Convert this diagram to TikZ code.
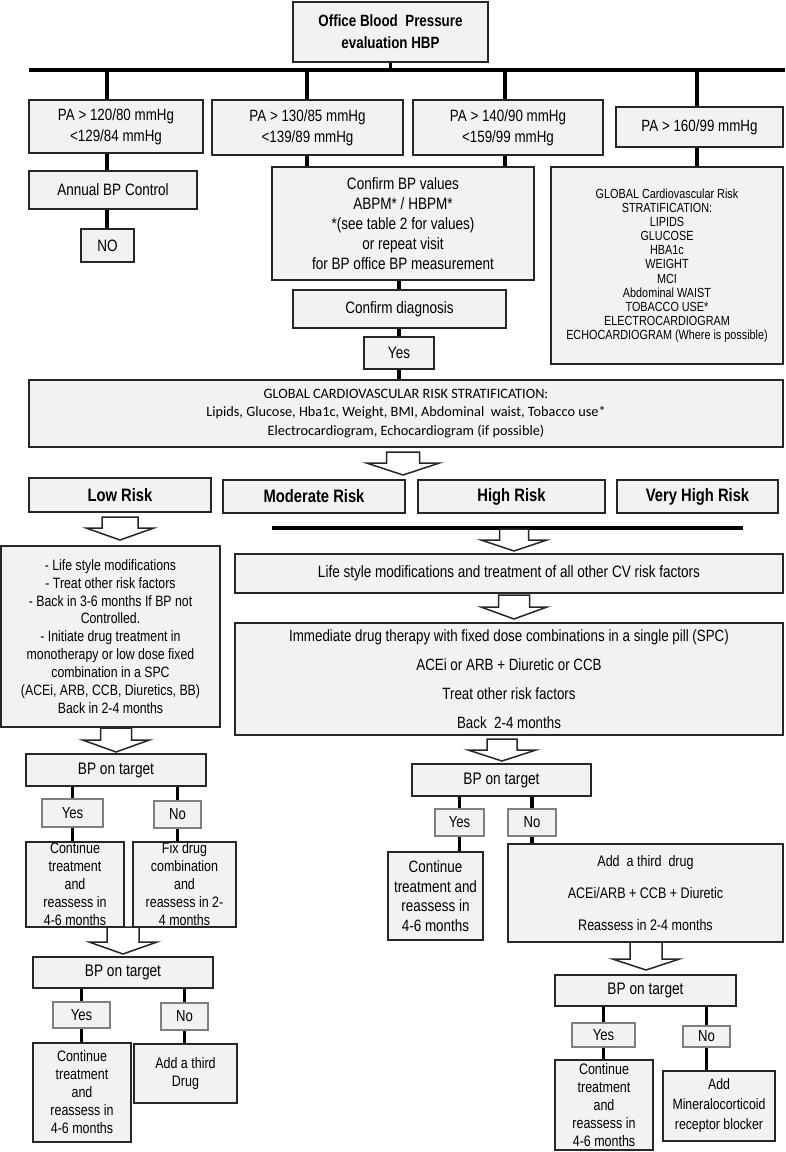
\documentclass[tikz,border=0pt]{standalone}
\usepackage{fontspec}
\setmainfont{Liberation Sans}[FakeStretch=0.82]
\newfontfamily\calib{Carlito}
\usetikzlibrary{calc}
\definecolor{boxfill}{HTML}{F2F2F2}
\definecolor{boxline}{HTML}{262626}
\definecolor{ynline}{HTML}{7F7F7F}
\newcommand\fs[2]{\fontsize{#1}{#2}\selectfont}
\newcommand\bx[7]{\node[#2, minimum width={(#5-#3)*1pt}, minimum height={(#6-#4)*1pt}] (#1) at ({(#3+#5)/2},{(#4+#6)/2}) {#7};}
\newcommand\harr[6]{\draw[harrow] ({#1-#5},{#2}) -- ({#1+#5},{#2}) -- ({#1+#5},{#3}) -- ({#1+#6},{#3}) -- ({#1},{#4}) -- ({#1-#6},{#3}) -- ({#1-#5},{#3}) -- cycle;}
\tikzset{
  box/.style={draw=boxline, fill=boxfill, line width=1.5pt, inner sep=0pt, align=center, font=\fs{16.5}{20}},
  ynbox/.style={draw=ynline, fill=boxfill, line width=1.2pt, inner sep=0pt, align=center, font=\fs{16}{20}},
  riskbox/.style={box, font=\fs{18}{22}\bfseries},
  conn/.style={line width=3.5pt, draw=black},
  thickbar/.style={line width=4pt, draw=black},
  harrow/.style={draw=boxline, fill=white, line width=1.5pt, line join=miter},
}
\begin{document}
\begin{tikzpicture}[x=1pt,y=-1pt]
\useasboundingbox (0,0) rectangle (785,1152);
% ---------- top part ----------
\bx{top}{box, font=\fs{16.3}{22}\bfseries}{293}{2}{488}{62}{Office Blood\ \ Pressure\\evaluation HBP}
\coordinate (barL) at (29,70);
\coordinate (barR) at (785,70);
\draw[conn] (top.south) -- (top.south |- barL);
\draw[thickbar] (barL) -- (barR);

\bx{b1}{box, font=\fs{16.3}{21}}{29}{100}{203}{153}{PA > 120/80 mmHg\\<129/84 mmHg}
\bx{b2}{box, font=\fs{16.3}{21}}{212}{100}{403}{155}{PA > 130/85 mmHg\\<139/89 mmHg}
\bx{b3}{box, font=\fs{16.3}{21}}{413}{100}{603}{155}{PA > 140/90 mmHg\\<159/99 mmHg}
\bx{b4}{box, font=\fs{16.3}{21}}{616}{107}{783}{147}{PA > 160/99 mmHg}

\bx{annual}{box}{29}{171}{197}{209}{Annual BP Control}
\bx{no0}{box}{81}{229}{134}{262}{NO}
\bx{confirm}{box}{272}{167}{534}{280}{Confirm BP values\\ABPM* / HBPM*\\*(see table 2 for values)\\or repeat visit\\for BP office BP measurement}
\bx{gright}{box, font=\fs{13.2}{14.1}}{551}{167}{783}{364}{GLOBAL Cardiovascular Risk\\STRATIFICATION:\\LIPIDS\\GLUCOSE\\HBA1c\\WEIGHT\\MCI\\Abdominal WAIST\\TOBACCO USE*\\ELECTROCARDIOGRAM\\ECHOCARDIOGRAM (Where is possible)}
\bx{cdiag}{box}{293}{290}{506}{328}{Confirm diagnosis}
\bx{yes0}{box}{364}{337}{434}{369}{Yes}
\bx{gcv}{box, font=\calib\fs{14.3}{18.5}}{29}{380}{783}{447}{GLOBAL CARDIOVASCULAR RISK STRATIFICATION:\\Lipids, Glucose, Hba1c, Weight, BMI, Abdominal\ \ waist, Tobacco use*\hspace*{28pt}\\Electrocardiogram, Echocardiogram (if possible)}

\coordinate (v1) at (107,70);
\coordinate (v2) at (307,70);
\coordinate (v3) at (505,70);
\coordinate (v4) at (697,70);
\coordinate (v5) at (399,70);
\draw[conn] (v1) -- (v1 |- b1.north);
\draw[conn] (v1 |- b1.south) -- (v1 |- annual.north);
\draw[conn] (v1 |- annual.south) -- (v1 |- no0.north);
\draw[conn] (v2) -- (v2 |- b2.north);
\draw[conn] (v2 |- b2.south) -- (v2 |- confirm.north);
\draw[conn] (v3) -- (v3 |- b3.north);
\draw[conn] (v3 |- b3.south) -- (v3 |- confirm.north);
\draw[conn] (v4) -- (v4 |- b4.north);
\draw[conn] (v4 |- b4.south) -- (v4 |- gright.north);
\draw[conn] (v5 |- confirm.south) -- (v5 |- cdiag.north);
\draw[conn] (v5 |- cdiag.south) -- (v5 |- yes0.north);
\draw[conn] (v5 |- yes0.south) -- (v5 |- gcv.north);

\harr{403}{452}{463}{475}{16.5}{36.5}

% ---------- risk row ----------
\bx{low}{riskbox}{29}{478}{211}{512}{Low Risk}
\bx{mod}{riskbox}{223}{480}{405}{513}{Moderate Risk}
\bx{high}{riskbox}{418}{480}{605}{513}{High Risk}
\bx{vhigh}{riskbox}{617}{480}{778}{513}{Very High Risk}

\coordinate (bar2L) at (272,528);
\coordinate (bar2R) at (743,528);
\draw[thickbar] (bar2L) -- (bar2R);

% ---------- low risk branch ----------
\harr{120}{517}{528}{540}{18}{34}
\bx{lowtxt}{box, font=\fs{15}{17.9}}{1}{546}{220}{727}{- Life style modifications\\- Treat other risk factors\\- Back in 3-6 months If BP not\\Controlled.\\- Initiate drug treatment in\\monotherapy or low dose fixed\\combination in a SPC\\(ACEi, ARB, CCB, Diuretics, BB)\\Back in 2-4 months}
\harr{116}{728}{740}{752}{15.5}{33.5}
\bx{bpL1}{box, font=\fs{16.7}{20}}{26}{754}{206}{786}{BP on target}
\bx{yesL1}{ynbox}{42}{799}{103}{827}{Yes}
\bx{noL1}{ynbox}{154}{801}{201}{828}{No}
\bx{contL1}{box, font=\fs{15.2}{18}}{26}{842}{124}{927}{Continue\\treatment\\and\\reassess in\\4-6 months}
\bx{fixL1}{box, font=\fs{15.2}{18}}{133}{842}{236}{927}{Fix drug\\combination\\and\\reassess in 2-\\4 months}
\draw[conn] (yesL1.north |- bpL1.south) -- (yesL1.north);
\draw[conn] (yesL1.south) -- (yesL1.south |- contL1.north);
\draw[conn] (noL1.north |- bpL1.south) -- (noL1.north);
\draw[conn] (noL1.south) -- (noL1.south |- fixL1.north);

\harr{123}{927}{942}{954}{16}{34}
\bx{bpL2}{box, font=\fs{16.7}{20}}{33}{957}{213}{988}{BP on target}
\bx{yesL2}{ynbox}{53}{1002}{110}{1028}{Yes}
\bx{noL2}{ynbox}{161}{1003}{208}{1030}{No}
\bx{contL2}{box, font=\fs{15.2}{18}}{33}{1043}{131}{1142}{Continue\\treatment\\and\\reassess in\\4-6 months}
\bx{addL2}{box, font=\fs{15.2}{18}}{134}{1044}{237}{1103}{Add a third\\Drug}
\draw[conn] (yesL2.north |- bpL2.south) -- (yesL2.north);
\draw[conn] (yesL2.south) -- (yesL2.south |- contL2.north);
\draw[conn] (noL2.north |- bpL2.south) -- (noL2.north);
\draw[conn] (noL2.south) -- (noL2.south |- addL2.north);

% ---------- moderate / high / very high branch ----------
\harr{514}{529}{540}{551}{14.5}{33}
\bx{life}{box}{235}{554}{783}{593}{Life style modifications and treatment of all other CV risk factors}
\harr{514}{595}{607}{619}{15.5}{33}
\bx{imm}{box, font=\fs{16.3}{29}}{235}{623}{783}{735}{Immediate drug therapy with fixed dose combinations in a single pill (SPC)\\ACEi or ARB + Diuretic or CCB\\Treat other risk factors\\Back\ \ 2-4 months}
\harr{502}{739}{750}{761}{15}{34}
\bx{bpR1}{box, font=\fs{16.7}{20}}{412}{764}{591}{796}{BP on target}
\bx{yesR1}{ynbox}{435}{809}{484}{836}{Yes}
\bx{noR1}{ynbox}{508}{809}{556}{836}{No}
\bx{contR1}{box, font=\fs{16.4}{19.5}}{388}{852}{483}{940}{Continue\\treatment and\\reassess in\\4-6 months}
\bx{addR1}{box, font=\fs{15.3}{32}}{508}{844}{783}{942}{Add\ \ a third\ \ drug\\ACEi/ARB + CCB + Diuretic\\Reassess in 2-4 months}
\draw[conn] (yesR1.north |- bpR1.south) -- (yesR1.north);
\draw[conn] (yesR1.south) -- (yesR1.south |- contR1.north);
\draw[conn] (noR1.north |- bpR1.south) -- (noR1.north);
\draw[conn] (noR1.south) -- (noR1.south |- addR1.north);

\harr{646}{942}{959}{970}{16}{33.5}
\bx{bpR2}{box, font=\fs{16.7}{20}}{555}{975}{736}{1006}{BP on target}
\bx{yesR2}{ynbox}{572}{1023}{635}{1047}{Yes}
\bx{noR2}{ynbox}{683}{1026}{730}{1047}{No}
\bx{contR2}{box, font=\fs{15.2}{18}}{555}{1060}{653}{1150}{Continue\\treatment\\and\\reassess in\\4-6 months}
\bx{mrb}{box, font=\fs{15}{20}}{663}{1071}{775}{1141}{Add\\Mineralocorticoid\\receptor blocker}
\draw[conn] (yesR2.north |- bpR2.south) -- (yesR2.north);
\draw[conn] (yesR2.south) -- (yesR2.south |- contR2.north);
\draw[conn] (noR2.north |- bpR2.south) -- (noR2.north);
\draw[conn] (noR2.south) -- (noR2.south |- mrb.north);
\end{tikzpicture}
\end{document}
